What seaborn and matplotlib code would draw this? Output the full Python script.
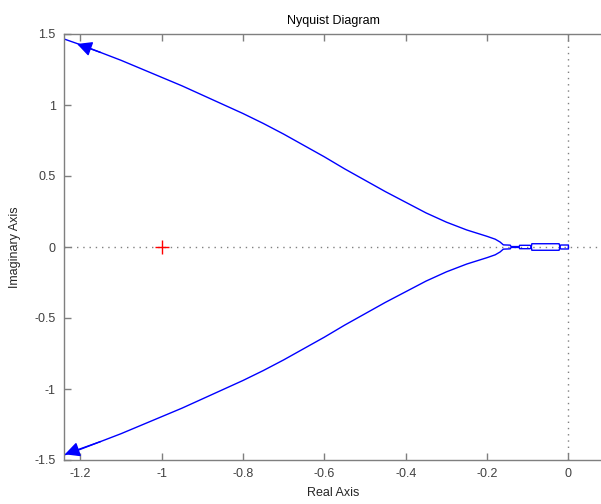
import matplotlib
matplotlib.use("Agg")
import matplotlib.pyplot as plt
import seaborn as sns
import pandas as pd

# Upper branch (negative frequencies)
upper_re = [-1.24, -1.20, -1.15, -1.10, -1.05, -1.0, -0.95, -0.9, -0.85, -0.8, -0.75, -0.7, -0.65,
            -0.6, -0.55, -0.5, -0.45, -0.4, -0.35, -0.3, -0.25, -0.2, -0.18, -0.168,
            -0.16, -0.143, -0.141, -0.121, -0.12, -0.094, -0.092, -0.091, -0.09, -0.023,
            -0.021, -0.019, 0.0, 0.0]
upper_im = [1.465, 1.425, 1.37, 1.315, 1.255, 1.195, 1.135, 1.07, 1.005, 0.94, 0.87, 0.795, 0.715,
            0.635, 0.55, 0.47, 0.39, 0.315, 0.24, 0.175, 0.12, 0.075, 0.055, 0.035,
            0.015, 0.013, 0.003, 0.003, 0.012, 0.012, 0.003, 0.003, 0.023, 0.023,
            0.003, 0.014, 0.014, 0.0]
# Lower branch (positive frequencies)
lower_re = [-1.24, -1.20, -1.15, -1.10, -1.05, -1.0, -0.95, -0.9, -0.85, -0.8, -0.75, -0.7, -0.65,
            -0.6, -0.55, -0.5, -0.45, -0.4, -0.35, -0.3, -0.25, -0.2, -0.18, -0.168,
            -0.16, -0.143, -0.141, -0.121, -0.12, -0.094, -0.092, -0.091, -0.09, -0.023,
            -0.021, -0.019, 0.0, 0.0]
lower_im = [-1.465, -1.425, -1.37, -1.315, -1.255, -1.195, -1.135, -1.07, -1.005, -0.94, -0.87, -0.795, -0.715,
            -0.635, -0.55, -0.47, -0.39, -0.315, -0.24, -0.175, -0.12, -0.075, -0.055, -0.035,
            -0.015, -0.013, -0.003, -0.003, -0.012, -0.012, -0.003, -0.003, -0.023, -0.023,
            -0.003, -0.014, -0.014, 0.0]

critical_re = [-1.0]
critical_im = [0.0]

x_ticks = [-1.2, -1.0, -0.8, -0.6, -0.4, -0.2, 0.0]
x_ticklabels = ["-1.2", "-1", "-0.8", "-0.6", "-0.4", "-0.2", "0"]
y_ticks = [-1.5, -1.0, -0.5, 0.0, 0.5, 1.0, 1.5]
y_ticklabels = ["-1.5", "-1", "-0.5", "0", "0.5", "1", "1.5"]

sns.set_style("white")
plt.rcParams['font.family'] = ['Liberation Sans', 'DejaVu Sans']
plt.rcParams['axes.unicode_minus'] = False

fig = plt.figure(figsize=(6.01, 5.04), dpi=100)
ax = fig.add_axes([64/601, 1-460/504, 1-64/601 + 0.002, (460-34)/504])

df_u = pd.DataFrame({"re": upper_re, "im": upper_im})
df_l = pd.DataFrame({"re": lower_re, "im": lower_im})
sns.lineplot(data=df_u, x="re", y="im", sort=False, estimator=None, color="#0000ff", lw=1.0, ax=ax)
sns.lineplot(data=df_l, x="re", y="im", sort=False, estimator=None, color="#0000ff", lw=1.0, ax=ax)

# direction arrows
arrow_kw = dict(arrowstyle="-|>,head_length=0.9,head_width=0.45", color="#0000ff", lw=1.0, mutation_scale=10,
                shrinkA=0, shrinkB=0)
ax.annotate("", xy=(upper_re[1] - 0.008, upper_im[1] + 0.005), xytext=(upper_re[2], upper_im[2]),
            arrowprops=arrow_kw)
ax.annotate("", xy=(lower_re[0] + 0.002, lower_im[0] + 0.005), xytext=(lower_re[2], lower_im[2]),
            arrowprops=arrow_kw)

ax.axhline(0, color="#808080", ls=(0, (1, 3.5)), lw=1.0, zorder=0)
ax.axvline(0, color="#808080", ls=(0, (1, 3.5)), lw=1.0, zorder=0)

sns.scatterplot(x=critical_re, y=critical_im, marker="+", s=90, color="red", linewidth=1.0, ax=ax, zorder=5)

ax.set_xlim(-1.24, 0.083)
ax.set_ylim(-1.5, 1.5)
ax.set_xticks(x_ticks)
ax.set_xticklabels(x_ticklabels)
ax.set_yticks(y_ticks)
ax.set_yticklabels(y_ticklabels)

for s in ["left", "bottom", "top"]:
    ax.spines[s].set_color("#7f7f7f")
    ax.spines[s].set_linewidth(1.0)
ax.spines["right"].set_visible(False)
ax.tick_params(direction="in", length=5, width=1, color="#7f7f7f", labelcolor="#404040",
               labelsize=9, top=True, bottom=True, left=True, pad=6)

ax.set_title("Nyquist Diagram", fontsize=9, pad=7, color="black")
ax.set_xlabel("Real Axis", fontsize=9, labelpad=5)
ax.set_ylabel("Imaginary Axis", fontsize=9, labelpad=10)

fig.savefig("out.png", dpi=100)
